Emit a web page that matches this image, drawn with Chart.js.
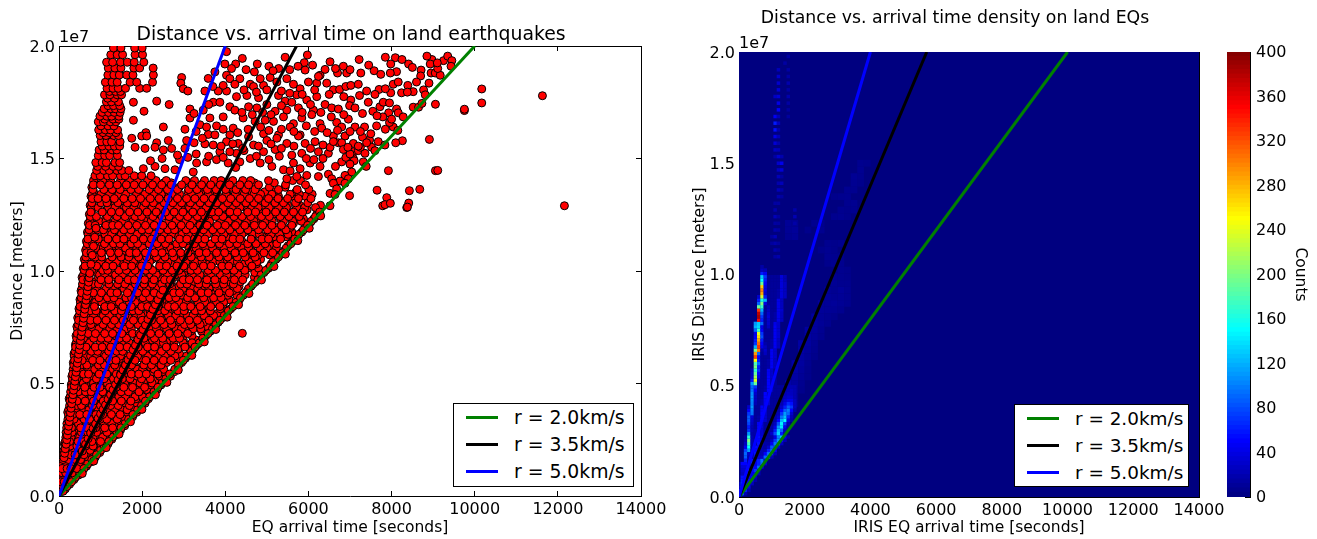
<!DOCTYPE html>
<html>
<head>
<meta charset="utf-8">
<title>Distance vs. arrival time</title>
<script src="https://cdn.jsdelivr.net/npm/chart.js@4/dist/chart.umd.min.js"></script>
<style>
  html, body { margin: 0; background: #fff; overflow: hidden; }
  body { position: relative; width: 1317px; height: 539px; font-family: "DejaVu Sans", sans-serif; }
  canvas { position: absolute; top: 0; }
  .legende { position: absolute; box-sizing: border-box; background: #fff; border: 1px solid #000; padding-top: 0; }
  .legende div { display: flex; align-items: center; height: 27px; white-space: nowrap; }
  .legende span { display: block; height: 3px; width: 32px; margin: 0 16px 0 12px; }
</style>
</head>
<body>
<canvas id="nuage" width="702" height="539" style="left:0"></canvas>
<canvas id="densite" width="590" height="539" style="left:660px"></canvas>
<canvas id="barre" width="117" height="539" style="left:1200px"></canvas>
<div class="legende" id="legende1" style="left:453px;top:403px;width:181px;height:84px;font-size:18.8px"></div>
<div class="legende" id="legende2" style="left:1014px;top:404px;width:175px;height:83px;font-size:18.4px"></div>
<script>
// Axes
const timeMax = 14000;
const timeStep = 2000;
const distMax = 2e7;
const distStep = 5e6;
const countMax = 400;
const countStep = 40;

// Reference speed lines
const speedLabels = ["r = 2.0km/s", "r = 3.5km/s", "r = 5.0km/s"];
const speedColors = ["#008000", "#000000", "#0000ff"];
const speedEndTimes = [10000, 5714, 4000];

// Scatter, lower layer of the wedge: [distance in 1e6 m, [arrival times]]
const fillRows = [
  [0.31,[30,85,150]], [0.52,[40,130,255]], [0.73,[60,170,360]], [0.93,[70,225,335,470]], [1.12,[88,270,410,565]],
  [1.32,[110,250,380,660]], [1.52,[95,310,465,610,770]], [1.72,[125,330,575,700,870]], [1.93,[135,215,440,680,980]],
  [2.13,[155,390,590,780,960,1075]], [2.32,[130,375,500,760,1000,1180]], [2.52,[175,410,665,860,1085,1270]],
  [2.72,[190,440,650,880,1110,1375]], [2.93,[210,480,730,960,1210,1480]], [3.12,[200,445,640,920,1180,1385,1580]],
  [3.32,[235,480,775,940,1210,1480,1690]], [3.52,[245,555,790,1000,1310,1560,1770]], [3.72,[210,470,610,830,1130,1410,1640,1870]],
  [3.93,[270,510,770,1040,1290,1500,1810,1960]], [4.12,[285,575,860,1145,1390,1610,1880,2070]],
  [4.32,[245,515,755,1020,1330,1550,1850,2150]], [4.52,[300,600,870,1130,1410,1730,1980,2260]],
  [4.73,[320,560,720,1000,1310,1590,1880,2110,2360]], [4.93,[295,640,900,1120,1450,1700,2000,2210,2450]],
  [5.12,[345,600,840,1130,1470,1760,2040,2300,2555]], [5.32,[310,500,770,1060,1340,1630,1860,2150,2420,2680]],
  [5.52,[365,640,930,1190,1530,1800,2030,2240,2500,2770]], [5.73,[380,610,880,1160,1470,1720,1980,2200,2480,2850]],
  [5.93,[345,690,1000,1300,1550,1800,2120,2380,2590,2950]], [6.12,[400,650,930,1190,1490,1710,2000,2320,2600,2830,3040]],
  [6.32,[360,720,1010,1270,1560,1850,2070,2340,2640,2900,3150]], [6.52,[430,700,950,1240,1500,1780,2080,2320,2560,2860,3230]],
  [6.72,[395,760,1100,1370,1600,1880,2170,2480,2720,3050,3320]], [6.93,[445,680,1020,1320,1650,1900,2240,2400,2660,2990,3300,3440]],
  [7.12,[410,780,1060,1370,1590,1880,2120,2440,2690,2920,3200,3530]], [7.32,[465,730,1000,1260,1540,1700,2100,2340,2620,2880,3170,3430,3640]],
  [7.53,[430,820,1110,1400,1680,1960,2210,2500,2770,3040,3290,3560,3730]], [7.72,[495,770,990,1300,1590,1870,2150,2380,2620,2900,3190,3480,3830]],
  [7.92,[450,850,1170,1440,1730,2040,2300,2480,2790,3110,3380,3640,3930]], [8.12,[515,760,1010,1300,1570,1820,2130,2440,2700,2960,3250,3560,3820,4030]],
  [8.32,[480,810,1080,1390,1640,1950,2220,2510,2790,3030,3330,3600,3880,4130]], [8.52,[530,860,1150,1480,1760,2010,2310,2570,2830,3120,3440,3700,3950,4230]],
  [8.73,[505,780,1075,1370,1670,1950,2240,2490,2740,3020,3300,3560,3830,4090,4340]], [8.92,[555,880,1180,1430,1790,2100,2350,2610,2940,3220,3500,3780,4060,4280,4430]],
  [9.12,[530,840,1090,1370,1690,1990,2280,2560,2840,3080,3400,3670,3940,4180,4530]], [9.32,[580,905,1230,1510,1800,2060,2390,2620,2880,3190,3460,3720,4050,4330,4620]],
  [9.52,[600,870,1120,1480,1770,2110,2400,2700,2940,3250,3510,3830,4080,4360,4730]], [9.72,[555,950,1280,1570,1860,2180,2460,2760,3040,3300,3600,3860,4140,4420,4700,4840]],
  [9.93,[620,920,1200,1510,1810,2130,2390,2690,3000,3280,3570,3890,4160,4400,4710,4930]], [10.12,[585,1000,1290,1590,1880,2190,2490,2790,3090,3360,3660,3940,4230,4540,4800,5040]],
  [10.32,[650,950,1240,1530,1850,2100,2430,2740,3010,3320,3610,3910,4190,4460,4750,5110]], [10.52,[610,1040,1330,1630,1960,2240,2540,2840,3130,3400,3700,4000,4270,4560,4850,5220]],
  [10.72,[670,985,1270,1570,1870,2190,2460,2770,3070,3350,3650,3950,4250,4520,4800,5060,5320]], [10.92,[640,1080,1380,1680,1980,2290,2590,2880,3170,3460,3770,4070,4350,4620,4880,5170,5430]],
  [11.12,[690,1020,1300,1620,1930,2220,2510,2810,3110,3410,3720,3990,4300,4580,4860,5120,5510]], [11.32,[660,1130,1420,1720,2030,2320,2630,2920,3220,3520,3800,4130,4400,4680,4950,5230,5620]],
  [11.52,[715,1060,1360,1660,1960,2250,2570,2860,3170,3470,3770,4060,4340,4640,4920,5200,5460,5730]], [11.73,[685,1160,1460,1770,2070,2370,2680,2970,3280,3570,3870,4160,4460,4740,5040,5320,5600,5840]],
  [11.93,[735,1100,1400,1710,2010,2300,2610,2910,3210,3510,3820,4100,4410,4700,4980,5250,5560,5920]], [12.12,[705,1190,1500,1800,2100,2420,2720,3020,3320,3610,3930,4200,4510,4800,5080,5360,5640,6030]],
  [12.32,[760,1120,1440,1740,2050,2350,2650,2960,3260,3570,3870,4160,4470,4750,5040,5330,5600,5880,6130]], [12.52,[730,1220,1530,1840,2150,2450,2770,3060,3370,3670,3980,4290,4570,4860,5150,5470,5760,6200]],
  [12.72,[790,1150,1470,1780,2090,2400,2720,3010,3310,3630,3920,4240,4530,4830,5130,5410,5690,5970,6240]], [12.92,[750,1250,1570,1880,2190,2490,2810,3110,3430,3730,4040,4330,4620,4920,5220,5500,5790,6290]],
  [13.12,[810,1180,1500,1820,2130,2440,2760,3050,3370,3680,3990,4280,4590,4880,5170,5440,5730,6000]], [13.32,[770,1280,1590,1910,2230,2530,2850,3150,3470,3770,4080,4400,4700,4990,5280,5620,5920]],
  [13.52,[830,1210,1530,1850,2170,2480,2800,3100,3410,3720,4040,4330,4640,4950,5160,5700]], [13.72,[790,1300,1620,1950,2260,2580,2890,3230,3520,3830,4150,4440,4760,5060,5440]],
  [13.92,[845,1250,1560,1880,2210,2520,2700,3150,3470,3790,4080,4400,4700,5180]]
];

// Scatter, upper layer of the wedge: [distance in 1e6 m, [arrival times]]
const denseRows = [
  [0.21,[15,60,98]], [0.83,[48,115,240,395]], [1.42,[92,180,335,470,688]], [2.03,[118,245,350,560,745,1000]],
  [2.61,[165,290,495,610,815,1050,1290]], [3.22,[190,340,465,705,860,1095,1270,1590]],
  [3.83,[232,395,590,720,945,1180,1340,1640,1890]], [4.41,[268,370,545,790,925,1210,1440,1600,1830,2010,2180]],
  [5.02,[310,470,585,830,1040,1160,1390,1580,1800,1950,2240,2480]],
  [5.63,[340,500,720,860,1015,1290,1410,1650,1880,2010,2290,2520,2785]],
  [6.22,[365,610,760,905,1120,1335,1480,1755,1890,2140,2400,2555,2790,3070]],
  [6.81,[415,540,730,990,1160,1280,1570,1690,1945,2075,2360,2510,2770,2985,3200,3380]],
  [7.43,[445,620,805,960,1220,1395,1620,1740,2010,2180,2345,2590,2820,2945,3230,3410,3690]],
  [8.02,[485,690,830,1065,1210,1470,1585,1860,1975,2240,2410,2630,2810,3085,3225,3490,3720,3975]],
  [8.61,[515,670,880,1030,1295,1450,1690,1835,2070,2290,2420,2705,2890,3060,3345,3510,3790,3960,4260]],
  [9.22,[550,760,905,1140,1305,1560,1705,1985,2110,2365,2560,2715,2980,3190,3335,3610,3805,4010,4290,4560]],
  [9.83,[590,730,975,1100,1360,1525,1760,1930,2205,2340,2610,2795,2950,3240,3390,3655,3880,4040,4320,4480,4860]],
  [10.41,[635,830,1000,1215,1380,1640,1790,2025,2180,2470,2620,2880,3055,3285,3440,3710,3870,4135,4290,4570,4760,5150]],
  [11.02,[665,890,1065,1190,1455,1600,1870,2010,2280,2415,2690,2845,3125,3300,3530,3695,3970,4140,4395,4560,4830,5010,5230,5465]],
  [11.63,[700,845,1110,1265,1500,1695,1880,2140,2300,2530,2705,2960,3110,3395,3570,3790,3965,4230,4400,4665,4820,5100,5305,5510,5770]],
  [12.21,[745,960,1130,1350,1520,1780,1950,2215,2360,2640,2810,3050,3210,3480,3625,3890,4075,4300,4520,4690,4960,5130,5400,5620,5830,6070]],
  [12.82,[775,940,1190,1345,1620,1800,2030,2240,2415,2700,2855,3140,3290,3540,3745,3950,4190,4350,4640,4790,5055,5280,5470,5720,5910,6170]],
  [13.41,[795,1010,1210,1440,1605,1860,2065,2290,2460,2745,2900,3190,3370,3590,3810,4020,4240,4455,4690,4850,5120,5560,5780,6090]],
  [14.02,[830,1050,1240,1480,1700,1885,2130,2335,2580,3050,3260,3500,3730,3900,4180,4420,4610,5040,5620,5810]],
  [0.42,[35,95,190]], [1.03,[75,160,320,500]], [1.62,[100,230,395,520,790]], [2.22,[145,270,430,640,820,1090]],
  [2.83,[170,315,540,690,905,1155,1395]], [3.41,[215,360,605,735,985,1150,1400,1675]],
  [4.02,[255,420,540,805,1000,1240,1425,1695,1985]], [4.63,[280,465,640,775,1050,1260,1495,1670,1925,2285]],
  [5.21,[325,430,660,900,1085,1310,1525,1710,1985,2195,2570]],
  [5.82,[355,520,670,950,1095,1340,1590,1745,2040,2225,2455,2875]],
  [6.43,[385,565,780,930,1195,1390,1530,1810,2015,2265,2465,2690,3175]],
  [7.01,[425,590,835,1015,1180,1455,1625,1870,2045,2295,2495,2745,2900,3460]],
  [7.62,[465,640,770,1060,1265,1440,1700,1905,2105,2320,2530,2715,3020,3170,3395,3775]],
  [8.23,[495,745,890,1110,1340,1500,1780,1920,2190,2375,2545,2860,3010,3275,3430,3640,4075]],
  [8.81,[535,700,960,1165,1320,1610,1745,2020,2185,2445,2650,2810,3095,3270,3480,3720,3900,4365]],
  [9.42,[565,815,950,1205,1410,1585,1840,2045,2245,2470,2665,2925,3080,3365,3540,3770,3960,4195,4665]],
  [10.03,[610,785,1050,1170,1440,1620,1830,2090,2250,2505,2720,2885,3175,3330,3590,3765,4020,4210,4470,4975]],
  [10.62,[645,875,1030,1275,1495,1680,1915,2110,2345,2550,2760,2990,3180,3420,3615,3850,4060,4290,4480,4720,5275]],
  [11.21,[680,810,1095,1310,1465,1735,1890,2170,2360,2560,2830,2980,3255,3460,3660,3860,4100,4285,4540,4740,4960,5240,5575]],
  [11.83,[725,925,1070,1335,1560,1730,1995,2160,2425,2620,2780,3060,3240,3475,3700,3905,4110,4350,4545,4800,5015,5200,5460,5880]],
  [12.42,[755,900,1165,1395,1590,1830,1985,2260,2480,2650,2900,3095,3330,3510,3770,3945,4210,4405,4610,4870,5060,5320,5530,5780,6170]],
  [13.03,[790,1010,1155,1420,1650,1825,2085,2270,2530,2740,2950,3160,3395,3610,3800,4060,4265,4495,4690,4960,5195,5400,5690,5985]],
  [13.62,[815,1080,1280,1470,1730,1915,2170,2390,2610,2850,3120,3320,3570,3780,4010,4260,4490,4720,5280,5730,6010]],
  [0.63,[45,125,230,300]], [1.22,[82,195,285,430,600]], [1.83,[112,280,385,600,905]], [2.42,[150,255,460,600,790,1000,1200]],
  [3.03,[185,300,520,680,880,1100,1290,1490]], [3.62,[228,330,500,670,890,1050,1260,1470,1780]],
  [4.22,[262,435,630,830,1065,1290,1500,1730,2080]], [4.83,[300,415,620,845,985,1215,1375,1560,1770,2060,2380]],
  [5.42,[328,590,710,965,1150,1380,1480,1740,1920,2100,2380,2660]],
  [6.03,[375,555,810,985,1220,1370,1630,1830,2090,2290,2510,2690,2990]],
  [6.62,[400,650,870,1040,1245,1460,1640,1905,2130,2300,2580,2775,3030,3270]],
  [7.22,[440,700,875,1100,1290,1510,1770,1930,2205,2410,2650,2860,3095,3585]],
  [7.81,[470,755,920,1130,1335,1545,1790,2000,2225,2445,2680,2920,3130,3330,3610,3870]],
  [8.42,[505,620,850,1105,1255,1535,1740,1990,2130,2380,2630,2780,3000,3170,3395,3650,3870,4185]],
  [9.03,[545,825,1020,1250,1395,1650,1890,2085,2290,2510,2760,2900,3150,3420,3590,3850,4100,4490]],
  [9.61,[575,695,1010,1195,1440,1665,1815,2060,2285,2540,2680,2990,3135,3330,3560,3750,3975,4220,4420,4785]],
  [10.22,[625,905,1125,1300,1575,1750,1985,2135,2420,2585,2835,3000,3235,3475,3660,3920,4085,4340,4640,5085]],
  [10.81,[660,770,1020,1235,1435,1700,1860,2080,2300,2480,2730,2930,3105,3370,3545,3790,3985,4235,4430,4670,4930,5140,5380]],
  [11.42,[695,945,1180,1385,1560,1800,2030,2225,2460,2650,2900,3075,3340,3510,3755,3920,4185,4350,4620,4880,5040,5330,5670]],
  [12.03,[735,870,1130,1290,1430,1665,1870,2080,2290,2500,2720,2940,3150,3390,3560,3810,4000,4245,4470,4700,4900,5120,5350,5600,5980]],
  [12.62,[765,1040,1260,1455,1700,1900,2115,2340,2560,2770,2980,3220,3425,3680,3840,4110,4290,4540,4730,4980,5210,5420,5640,5860,6270]],
  [13.22,[800,940,1130,1330,1560,1760,1960,2195,2410,2625,2850,3070,3270,3490,3700,3930,4130,4360,4580,4800,5040,5270,5500,5760,6060]],
  [13.83,[825,1000,1210,1400,1620,1810,2020,2250,2470,2700,2950,3200,3430,3650,3880,4100,4350,4560,4800,5450,5930]],
  [14.23,[865,990,1170,1290,1480,1590,1810,1990,2215]], [14.47,[905,1080,1210,1395,1510,1680]], [14.65,[930,1120,1300,1430]],
  [14.82,[885,1040,1140,1345,1460]], [15.13,[945,1100,1220,1405]], [15.38,[965,1085,1280,1390]], [15.55,[1040,1200,1330,1460]],
  [15.74,[1010,1150,1265,1470]], [16.02,[990,1130,1320,1430]], [16.15,[1060,1210,1370]], [16.27,[955,1115,1240,1410]],
  [16.45,[1010,1180,1320]], [16.63,[945,1070,1235,1370]], [16.75,[1100,1300,1440]], [16.88,[985,1150,1265,1440]],
  [17.05,[1040,1190,1330,1470]], [17.21,[1085,1250,1355,1490]], [17.35,[1180,1310,1460]], [17.52,[1140,1260,1430]],
  [17.68,[1170,1335]], [17.83,[1095,1225,1400,1505]], [17.98,[1215,1360,1480]], [18.12,[1155,1300,1425,1600,1940,2110]],
  [18.39,[1115,1275,1400,1710,1870,2250]], [18.71,[1175,1320,1450,1630,1780,2270]], [19.02,[1185,1345,1490,1800,1940,2265]],
  [19.28,[1145,1290,1480,1650,1810,2040]], [19.61,[1245,1400,1530,1830,2010]], [19.91,[1310,1490,1820,2000]]
];

// Scatter, scattered part: [arrival time, distance in 1e6 m]
const sparseQuakes = [
  [4030,19.75],[4410,19.45],[5440,19.5],[5975,19.6],[3990,19.2],[4250,19.2],[4770,19.2],[5050,19.1],[5285,19.0],
  [5900,19.26],[5920,18.93],[6280,18.7],[6400,18.96],[6520,19.3],[6840,19.1],[7220,19.4],[6700,18.8],[6920,18.8],
  [7260,18.8],[7580,18.9],[7740,18.74],[8090,19.48],[7980,19.2],[8120,18.86],[7970,18.8],[8410,19.2],[8710,18.93],
  [8700,18.67],[8970,19.4],[8930,19.2],[8950,18.8],[9050,18.8],[9170,18.7],[9250,19.35],[9350,19.55],[9450,19.35],
  [9430,19.1],[9110,19.0],
  [2950,18.6],[2930,18.35],[2990,18.1],[3100,18],[3590,18.56],[3750,18.85],[4030,18.7],[4110,18.55],[4350,18.55],
  [4230,18.3],[4600,18.3],[4680,18.2],[4920,18.25],[4840,18.55],[5080,18.6],[5240,18.4],[5480,18.55],[5640,18.3],
  [5800,18.1],[6000,18.4],[6200,18.35],[6240,18.65],[6440,18.35],[6600,18.05],[6750,18.07],[6900,18.2],[7020,18.25],
  [7200,18.3],[7700,18.07],[8040,18.3],[8160,18.4],[8390,18.25],[8240,17.92],[8520,17.97],[7980,17.92],[8380,17.95],
  [8770,18.05],[8900,18.35],[8810,17.83],
  [2350,17.55],[2650,17.4],[2045,17.1],[1790,17.5],[3150,17.2],[3470,17.15],[3510,18],[3710,17.5],[3830,18],[4030,18],
  [4270,17.75],[3870,17.5],[4110,17.3],[4230,17.15],[4520,17.8],[4800,17.7],[4560,17.3],[4760,17.25],[5000,17.4],
  [5280,17.8],[5440,17.55],[5200,17.1],[5720,17.83],[5960,17.6],[6200,17.75],[6400,17.4],[5760,17.25],[5480,17.15],
  [6120,17.15],[6560,17.25],[6720,17.2],[7020,17.6],[6990,17.35],[7120,17.25],[7230,17.8],[7440,17.5],[7720,17.3],
  [7800,17.5],[7950,17.47],[7930,17.03],[8120,17.2],[7790,16.85],[8160,17.03],[8280,16.85],[8520,17.28],[8650,17.28],
  [8730,17.45],
  [1790,16.7],[3630,16.8],[3150,16.8],[3390,16.5],[3030,16.3],[3790,16.45],[2510,16.4],[2090,16.15],[1990,16],
  [3590,16.07],[3750,16.05],[4190,16.35],[4430,16.8],[4720,16.65],[4960,16.7],[5160,16.65],[5400,16.85],[5640,16.55],
  [5840,16.8],[6080,16.95],[6280,16.55],[6320,16.35],[4110,16.05],[4920,16.1],[5280,16.05],[5560,16.4],[5800,16.05],
  [6680,16.6],[6960,16.75],[6800,16.4],[7120,16.4],[7350,16.4],[7640,16.45],[8040,16.4],[8150,16.25],[6880,16],[6600,16],
  [1750,15.9],[2350,15.7],[2630,15.8],[2110,16],[1830,15.5],[2070,15.45],[2310,15.5],[2510,15.38],[2710,15.45],
  [3070,15.8],[3030,15.45],[3510,15.65],[3710,15.6],[4030,15.75],[4310,15.67],[4560,15.97],[4270,15.23],[3870,15.3],
  [4110,15.3],[4680,15.6],[5000,15.8],[5240,15.9],[4920,15.3],[5200,15.4],[5480,15.67],[5760,16],[5920,15.67],
  [6160,15.75],[5600,15.15],[5840,15.23],[6240,15.3],[6480,15.23],[6520,15.5],[6720,15.7],[6880,16],[7080,15.67],
  [7300,15.95],[7470,15.82],[7680,15.75],[7840,15.6],[7520,15.5],[6800,15.7],[7080,15.3],[7200,15.35],[7360,15.23],
  [6840,15.4],[7080,15],
  [2030,14.55],[2310,14.65],[2550,14.55],[2790,14.5],[3310,14.8],[3550,14.85],[3230,14.4],[3790,14.95],[4070,14.8],
  [4350,14.85],[4600,15],[4840,14.8],[5120,14.65],[5400,14.5],[5640,14.8],[6040,14.8],[6280,14.65],[5480,14.1],
  [5720,14.2],[5960,14.25],[6240,14.2],[6480,14.3],[6560,14.1],[6800,14.85],[7100,14.9],[7320,14.85],[7000,14.75],
  [7390,14.65],[7040,14.4],[6880,14.25],[6760,14],[6600,13.9],[6960,14.1],[6880,13.9],[6680,13.65],[6990,13.35],
  [6520,13.45],[6640,13.4],[6520,12.9],
  [2200,14.9],[2480,15],[2900,14.95],[3100,15.05],[3300,15.2],[3600,15.1],[3950,15.05],[4250,14.6],[4450,15.35],[4750,15.1],
  [5050,14.95],[5300,15.1],[5560,14.45],[5800,14.55],[5950,15],[6130,14.95],[6350,15],[6650,14.65],[6900,15.05],[7000,15.2],
  [7250,15.5],[2850,15.15],[3250,15.7],[3450,15.9],[3900,15.55],[4180,15.65],[4420,15.45],[4800,15.55],[5100,15.65],[5350,15.45],
  [5650,15.55],[6050,15.45],[6350,15.6],[6600,15.75],[6950,15.5],[7200,15.55],[7400,15.7],[7600,15.35],
  [3300,16.2],[3550,16.4],[3950,16.3],[4300,16.15],[4550,16.3],[4850,16.4],[5050,16.25],[5350,16.3],[5650,16.2],[5950,16.45],
  [6150,16.2],[6450,16.15],[6700,16.25],[7000,16.2],[7250,16.2],[7500,16.1],[7850,16.3],[7950,16.6],
  [3250,17.0],[3600,17.4],[3950,16.85],[4400,17.05],[4650,16.95],[4900,17.05],[5100,16.95],[5350,17.35],[5600,17.5],[5850,17.05],
  [6050,17.4],[6300,17.05],[6550,16.85],[6850,16.95],[7300,17],[7550,17.1],[7650,16.9],[8000,16.75],
  [3700,18.2],[3950,18.25],[4450,18.05],[4750,17.95],[5000,18.05],[5350,18],[5550,17.9],[5850,17.85],[6150,18.05],[6500,17.85],
  [6850,17.75],[7400,18],[7600,17.85],[7850,18.1],[8600,18.4],
  [4150,19],[4500,18.95],[4700,18.85],[5150,18.9],[5550,18.95],[5750,19.1],[6100,19.15],[6650,19],[7000,18.95],[7450,19.15],
  [7850,19.5],[8250,19.4],[8500,19.05],[8850,19.55],[9100,19.25],
  [560,1.0],[835,1.55],[1135,2.15],[1445,2.75],[1720,3.3],[1995,3.85],[2320,4.5],[2595,5.05],[2870,5.6],[3195,6.25],[3495,6.85],
  [3770,7.4],[4045,7.95],[4320,8.5],[4570,9.0],[4870,9.6],[5170,10.2],[5445,10.75],[5745,11.35],[6020,11.9],[6295,12.45],
  [10169,18.09],[10169,17.47],[11629,17.79],[9752,17.13],[9752,17.19],[9055,17.41],[8910,15.85],[8261,15.79],[8100,15.70],
  [7924,14.46],[9055,14.46],[9111,14.47],[7651,13.59],[8429,13.57],[8678,13.63],[7884,13.26],[7787,12.90],[7843,12.95],
  [7971,13.01],[8413,13.02],[8365,12.82],[8381,12.84],[12158,12.90],[4410,7.23]
];

// Scatter, tight streaks where the outlines pile up: [arrival time, distance in 1e6 m]
const streakQuakes = [
  [120,1.7],[135,1.9],[150,2.1],[170,2.3],[185,2.5],[200,2.7],[215,2.9],[230,3.1],[245,3.3],[262,3.5],[275,3.7],[290,3.9],
  [305,4.1],[320,4.3],[335,4.5],[350,4.7],[365,4.9],[382,5.1],[395,5.3],[410,5.5],[425,5.7],[440,5.9],[455,6.1],[470,6.3],
  [488,6.5],[500,6.7],[515,6.9],[530,7.1],[545,7.3],[560,7.5],[578,7.7],[590,7.9],[605,8.1],[620,8.3],[638,8.5],[650,8.7],
  [665,8.9],[680,9.1],[695,9.3],[710,9.5],[725,9.7],[740,9.9],[770,10.3],[800,10.7],[830,11.1],[860,11.5],[890,11.9],
  [560,2.0],[640,2.3],[700,2.55],[760,2.8],[820,3.0],[880,3.2],[940,3.45],[1000,3.65],[1060,3.85],[1120,4.05],[1180,4.3],
  [1240,4.5],[1300,4.72],[1360,4.95],[1420,5.15],[1480,5.38],[1540,5.6],[1600,5.82],[1660,6.05],[1720,6.25],[1780,6.5],
  [1840,6.7],[1900,6.95],[1960,7.15],[2020,7.4],[2080,7.6],[2140,7.85],[2200,8.05],[2260,8.3],[2320,8.5],[2380,8.72],
  [2440,8.95],[2500,9.15]
];

// Density, bright cells: [distance in 1e6 m, first time, [counts every 100 s]]
const heatRows = [
  [0.15,0,[70,80,20]], [0.3,0,[55,75,60,20]], [0.45,0,[30,80,60,40]], [0.6,0,[20,70,55,50,25]],
  [0.75,100,[60,60,50,40,15]], [0.9,100,[55,65,45,50,25]],
  [1.05,100,[25,30,60,40,50,25]], [1.2,100,[30,30,60,50,70,30]], [1.35,100,[35,35,20,60,50,90,40]], [1.5,100,[50,50,15,60,40,60,90,30]],
  [1.65,200,[60,15,55,40,60,95,30]], [1.8,200,[85,20,15,60,30,30,90,80,20]], [1.95,200,[90,30,10,55,25,20,50,90,60,20]],
  [2.1,200,[75,110,10,50,55,20,20,60,90,45]], [2.25,200,[45,150,15,55,50,20,15,30,85,80,30]],
  [2.4,200,[25,175,20,15,55,40,15,15,45,95,85,25]], [2.55,200,[15,200,20,15,50,45,10,10,25,70,110,50,20]],
  [2.7,200,[10,165,20,10,55,35,10,10,15,40,100,125,45,15]], [2.85,300,[110,15,15,50,30,10,10,30,80,135,60,20]],
  [3.0,300,[70,20,15,50,30,10,10,15,60,125,90,25]], [3.15,300,[60,20,10,45,35,10,10,15,40,110,140,45,15]],
  [3.3,300,[75,25,10,45,35,10,10,10,25,80,145,75,20]], [3.45,300,[85,30,10,15,50,30,10,10,15,50,120,150,40,15]],
  [3.6,300,[85,35,10,15,50,30,10,10,15,30,95,125,65,20]], [3.75,300,[70,95,10,10,50,30,10,10,10,20,70,110,90,30]],
  [3.9,300,[50,100,10,10,45,35,10,10,10,15,50,85,100,50,15]], [4.05,300,[30,110,10,10,45,35,10,10,10,10,30,60,85,70,25]],
  [4.2,400,[100,20,10,15,45,30,10,10,10,20,40,65,55,25]], [4.35,400,[105,25,10,15,45,30,10,10,10,15,30,40,40,25]],
  [4.5,400,[110,25,10,10,50,30,10,10,10,10,25,30,30,20]], [4.65,400,[105,30,10,10,50,30,10,10,10,10,20,25,25,20]],
  [4.8,400,[95,45,10,10,15,50,25,10,10,10,15,20,25,20]], [4.95,400,[90,70,10,10,15,50,25,10,10,10,15,20,20,20]],
  [5.1,400,[110,190,15,10,10,50,25,10]], [5.25,400,[60,240,20,10,10,50,25,10]], [5.4,400,[30,215,40,10,10,50,30,10]],
  [5.55,400,[25,190,50,10,10,45,30,10]], [5.7,400,[20,170,70,10,10,45,30,10]], [5.85,500,[195,60,10,10,15,45,25]],
  [6.0,500,[180,90,10,10,15,45,25]], [6.15,500,[250,60,10,10,15,45,25]], [6.3,500,[325,50,10,10,10,45,30]],
  [6.45,500,[290,90,10,25,10,45,30]], [6.6,500,[200,300,15,30,10,45,30]], [6.75,500,[120,330,40,25,10,15,45,25]],
  [6.9,500,[70,310,50,15,10,15,45,25]], [7.05,500,[60,285,60,10,10,15,45,25]], [7.2,500,[50,265,80,10,10,10,45,30]],
  [7.35,500,[40,240,70,10,10,10,45,30]], [7.5,500,[90,170,50,10,10,10,45,30]], [7.65,500,[120,135,40,10,25,10,45,30]],
  [7.8,500,[110,130,90,10,30,10,40,30]], [7.95,600,[350,60,10,30,10,15,40,25]], [8.1,600,[385,70,10,35,10,15,40,25]],
  [8.25,600,[375,90,10,30,10,15,40,25]], [8.4,600,[330,120,10,25,10,10,40,30]], [8.55,600,[190,170,10,20,10,10,40,25]],
  [8.7,600,[90,200,40,10,10,10,40,25]], [8.85,600,[60,160,120,10,10,10,40,25]], [9.0,600,[30,230,60,10,10,10,15,35,25]],
  [9.15,700,[285,30,10,10,10,15,35,25]], [9.3,700,[300,40,10,10,10,15,35,25]], [9.45,700,[270,40,10,10,10,10,35,25]],
  [9.6,700,[190,50,10,10,10,10,35,25]], [9.75,700,[150,60,10,10,10,10,35,20]], [9.9,700,[130,70,10,10,10,10,35,20]],
  [10.05,700,[60,45]], [10.2,700,[25,20]], [10.35,700,[15]],
  // faint vertical streaks higher up
  [10.8,1100,[14,18]], [11.1,1100,[18,12]], [11.4,1000,[12,18,12]], [11.7,1000,[12,22]], [12.0,1100,[18,14]],
  [12.3,1100,[14,12,0,0,0,0,16]], [12.6,1100,[22,12,0,0,0,0,20]], [12.9,1100,[18,0,0,0,0,0,16]], [13.2,1100,[14,14]],
  [13.5,1200,[18,12]], [13.8,1200,[22,14]], [14.1,1200,[18,22]], [14.4,1200,[22,12]], [14.7,1200,[26,34]], [15.0,1200,[30,42]],
  [15.3,1100,[14,30,18]], [15.6,1100,[26,22]], [15.9,1100,[34,18]], [16.2,1100,[40,22]], [16.5,1100,[55,18]], [16.8,1100,[60,26]],
  [17.1,1100,[45,22,0,0,12]], [17.4,1200,[50,0,0,12]], [17.7,1200,[40,0,0,14]], [18.0,1100,[26,34,0,0,18]], [18.3,1200,[34,0,0,14]],
  [18.6,1200,[30,0,0,18]], [18.9,1200,[30,0,0,14]], [19.2,1200,[22,0,0,14]], [19.5,1400,[14]], [19.8,1500,[14]]
];

// Density, faint background: [distance in 1e6 m, first time, [counts every 200 s]]
const faintRows = [
  [4.2,1500,[12,8]], [4.5,1500,[14,9]], [4.8,1500,[15,10,5]], [5.1,1500,[16,12,6]], [5.4,1700,[14,9,5]],
  [5.7,1700,[16,10,5]], [6.0,1700,[15,12,6]], [6.3,1900,[14,9,5]], [6.6,1900,[15,10,6]], [6.9,1900,[15,12,7]],
  [7.2,2100,[14,10,6]], [7.5,2100,[13,11,7]], [7.8,2300,[12,9,6]], [8.1,2300,[12,9,7,5]], [8.4,2500,[10,9,8,6]],
  [8.7,2500,[10,9,10,8,6]], [9.0,2700,[10,8,9,7]], [9.3,2700,[9,7,10,7]], [9.6,2900,[8,6,6]],
  [9.9,2900,[7,6,5]], [10.2,3100,[6,5]], [10.5,2700,[5,7,6]], [10.8,2700,[7,6,5]], [11.1,2500,[5,7,5]],
  [11.4,2700,[6,5,6]], [11.7,1500,[7,9]], [12.0,1500,[8,10,0,5,0,6]], [12.3,1500,[9,8,0,0,6,5]],
  [12.6,2900,[6,7,5]], [12.9,3100,[6,5,6]], [13.2,3300,[6,7]], [13.5,2900,[5,6,7]], [13.8,3300,[7,6]],
  [14.1,3500,[7,5]], [14.4,3500,[8,6]], [14.7,3700,[7]], [15.0,3700,[6,5]]
];

const timeTicks = { min: 0, max: timeMax, stepSize: timeStep };
const distTicks = { min: 0, max: distMax, stepSize: distStep };

Chart.defaults.font.family = '"DejaVu Sans", sans-serif';
Chart.defaults.font.size = 16;
Chart.defaults.color = "#000";
Chart.defaults.animation = false;

// matplotlib jet
function jet(v) {
  const c = k => Math.round(255 * Math.min(1, Math.max(0, 1.5 - Math.abs(4 * v - k))));
  return `rgb(${c(3)},${c(2)},${c(1)})`;
}

function speedDatasets() {
  return speedLabels.map((label, i) => ({
    label: label,
    data: [{ x: 0, y: 0 }, { x: speedEndTimes[i], y: distMax }],
    showLine: true,
    pointRadius: 0,
    borderColor: speedColors[i],
    borderWidth: 3,
    order: 2 - i
  }));
}

function heatCells(rows, step) {
  const cells = [];
  rows.forEach(r => r[2].forEach((n, i) => {
    if (n > 0) cells.push({ x: r[1] + i * step, y: r[0] * 1e6, n: n });
  }));
  return cells;
}

function heatDataset(rows, step, radius, order) {
  const cells = heatCells(rows, step);
  return {
    label: "counts",
    data: cells,
    pointStyle: "rect",
    pointRadius: radius,
    pointBorderWidth: 0,
    pointBackgroundColor: cells.map(c => jet(c.n / countMax)),
    order: order
  };
}

const edge = { display: true, color: "#000", width: 1 };
const insideTicks = { drawOnChartArea: false, tickLength: -5, tickColor: "#000", tickWidth: 1 };
const labelFont = { size: 15.5 };

// empty first line: drops the y tick labels a little, canvas "middle" sits high for this font
function lowered(text) {
  return ["", text];
}

function axes(xTitle, yTitle, leftWidth, rightWidth, bottomHeight, yTitlePad) {
  return {
    x: Object.assign({}, timeTicks, {
      type: "linear", border: edge, grid: insideTicks,
      ticks: { stepSize: timeStep, padding: 9, maxRotation: 0, autoSkip: false, callback: v => String(v) },
      title: { display: true, text: xTitle, font: labelFont, padding: { top: 0, bottom: 2 } },
      afterFit(s) { s.height = bottomHeight; }
    }),
    y: Object.assign({}, distTicks, {
      type: "linear", border: edge, grid: insideTicks,
      ticks: { stepSize: distStep, padding: 9, autoSkip: false, font: { lineHeight: "3px" }, callback: v => lowered((v / 1e7).toFixed(1)) },
      title: { display: true, text: yTitle, font: labelFont, padding: { top: yTitlePad, bottom: 0 } },
      afterFit(s) { s.width = leftWidth; }
    }),
    x2: Object.assign({}, timeTicks, {
      type: "linear", position: "top", border: edge, grid: insideTicks,
      ticks: { display: false, stepSize: timeStep },
      afterFit(s) { s.height = 0; }
    }),
    y2: Object.assign({}, distTicks, {
      type: "linear", position: "right", border: edge, grid: insideTicks,
      ticks: { display: false, stepSize: distStep },
      afterFit(s) { s.width = rightWidth; }
    })
  };
}

// "1e7" above the y axis, and the navy background of the density map
const offsetLabel = {
  id: "offsetLabel",
  afterDraw(chart) {
    const ctx = chart.ctx;
    ctx.save();
    ctx.font = '16px "DejaVu Sans"';
    ctx.fillStyle = "#000";
    ctx.fillText("1e7", chart.chartArea.left, chart.chartArea.top - 4);
    ctx.restore();
  }
};
const navyBackground = {
  id: "navyBackground",
  beforeDatasetsDraw(chart) {
    const a = chart.chartArea;
    chart.ctx.save();
    chart.ctx.fillStyle = jet(0);
    chart.ctx.fillRect(a.left, a.top, a.width, a.height);
    chart.ctx.restore();
  }
};

function titleOptions(text, size, top, bottom) {
  return { display: true, text: text, font: { size: size, weight: "normal", lineHeight: 1 }, padding: { top: top, bottom: bottom } };
}

// Scatter
const quakePoints = [];
fillRows.concat(denseRows).forEach(r => r[1].forEach(t => quakePoints.push({ x: t, y: r[0] * 1e6 })));
sparseQuakes.forEach(q => quakePoints.push({ x: q[0], y: q[1] * 1e6 }));
streakQuakes.forEach(q => quakePoints.push({ x: q[0], y: q[1] * 1e6 }));

new Chart(document.getElementById("nuage"), {
  type: "scatter",
  data: {
    datasets: speedDatasets().concat([{
      label: "earthquakes",
      data: quakePoints,
      pointRadius: 4,
      pointBackgroundColor: "#ff0000",
      pointBorderColor: "#000",
      pointBorderWidth: 1,
      order: 3
    }])
  },
  options: {
    responsive: false,
    plugins: {
      legend: { display: false },
      tooltip: { enabled: false },
      title: titleOptions("Distance vs. arrival time on land earthquakes", 18.85, 26, 1.15)
    },
    scales: axes("EQ arrival time [seconds]", "Distance [meters]", 59, 61, 43, 9)
  },
  plugins: [offsetLabel]
});

// Density
new Chart(document.getElementById("densite"), {
  type: "scatter",
  data: {
    datasets: speedDatasets().concat([
      heatDataset(heatRows, 100, 2.45, 3),
      heatDataset(faintRows, 200, 4.7, 4)
    ])
  },
  options: {
    responsive: false,
    plugins: {
      legend: { display: false },
      tooltip: { enabled: false },
      title: titleOptions("Distance vs. arrival time density on land EQs", 17.3, 9.75, 24.95)
    },
    scales: axes("IRIS EQ arrival time [seconds]", "IRIS Distance [meters]", 79, 51, 42, 31)
  },
  plugins: [navyBackground, offsetLabel]
});

// Colour bar
const bandCount = 100;
const bandDatasets = [];
for (let i = 0; i < bandCount; i++) {
  bandDatasets.push({
    data: [countMax / bandCount],
    backgroundColor: jet((i + 0.5) / bandCount),
    borderWidth: 0,
    inflateAmount: 0.7
  });
}
new Chart(document.getElementById("barre"), {
  type: "bar",
  data: { labels: ["Counts"], datasets: bandDatasets },
  options: {
    responsive: false,
    layout: { padding: { left: 27, top: 52 } },
    barPercentage: 1,
    categoryPercentage: 1,
    plugins: { legend: { display: false }, tooltip: { enabled: false } },
    scales: {
      x: { stacked: true, display: false, afterFit(s) { s.height = 42; } },
      y: {
        stacked: true, position: "right", min: 0, max: countMax,
        border: edge, grid: insideTicks,
        ticks: { stepSize: countStep, padding: 11, autoSkip: false, font: { lineHeight: "2px" }, callback: v => lowered(String(v)) },
        title: { display: true, text: "Counts", font: labelFont, padding: { top: 8, bottom: 0 } },
        afterFit(s) { s.width = 67; }
      }
    }
  }
});

// Legends
["legende1", "legende2"].forEach(id => {
  const box = document.getElementById(id);
  speedLabels.forEach((label, i) => {
    const row = document.createElement("div");
    const swatch = document.createElement("span");
    swatch.style.background = speedColors[i];
    row.appendChild(swatch);
    row.appendChild(document.createTextNode(label));
    box.appendChild(row);
  });
});
</script>
</body>
</html>
